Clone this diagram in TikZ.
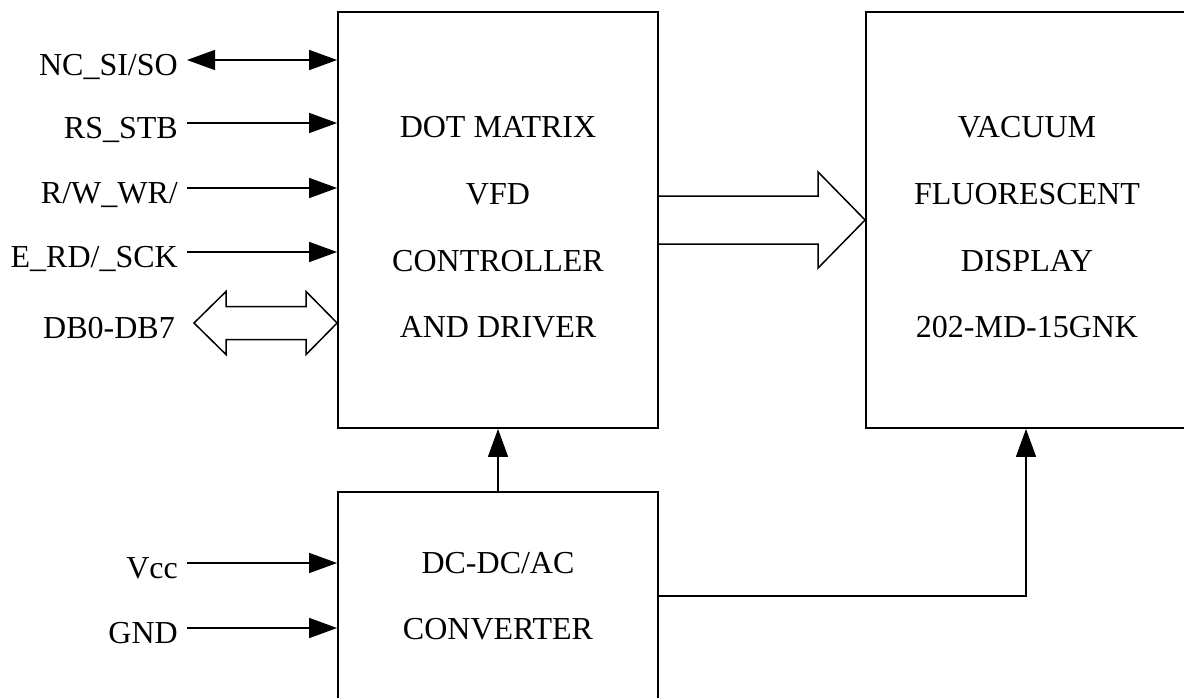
\documentclass[tikz,border=0pt]{standalone}
\usepackage{fontspec}
\setmainfont{Liberation Serif}
\usetikzlibrary{arrows.meta,calc}

\begin{document}
\begin{tikzpicture}[x=1pt, y=-1pt, >={Triangle[length=28pt,width=20pt]},
  every node/.style = {font=\fontsize{32}{66.7}\selectfont},
  block/.style = {shape=rectangle, draw, line width=1.8pt, minimum width=320pt, inner sep=0pt},
  blocktext/.style = {align=center, inner sep=0pt},
  sig/.style = {anchor=east, inner xsep=9pt, inner ysep=0pt, text height=30pt, text depth=0pt},
  wire/.style = {line width=1.5pt},
  bus/.style = {line width=1.5pt, line join=miter}]
  \useasboundingbox (0,0) rectangle (1184,697);
  \clip (0,0) rectangle (1184,697);

  % blocks
  \node[block, minimum height=416pt] (ctrl) at (498,220) {};
  \node[block, minimum height=416pt] (vfd) at (1026,220) {};
  \node[block, minimum height=208pt] (conv) at (498,596) {};
  \node[blocktext] (ctrltext) at ($(ctrl.center)+(0,7.5)$) {DOT MATRIX\\VFD\\CONTROLLER\\AND DRIVER};
  \node[blocktext] (vfdtext) at ($(vfd.center)+(1,7.5)$) {VACUUM\\FLUORESCENT\\DISPLAY\\202-MD-15GNK};
  \node[blocktext] (convtext) at (conv.center) {DC-DC/AC\\CONVERTER};

  % signals
  \node[sig] (nc) at (187,60) {NC\_SI/SO};
  \node[sig] (rs) at (187,123) {RS\_STB};
  \node[sig] (rw) at (187,188) {R/W\_WR/};
  \node[sig] (en) at (187,252) {E\_RD/\_SCK};
  \node[sig, inner xsep=19pt] (db) at (194,323) {DB0-DB7};
  \node[sig] (vcc) at (187,563) {Vcc};
  \node[sig] (gnd) at (187,628) {GND};

  \draw[wire, <->] (nc.east) -- (nc.east -| ctrl.west);
  \draw[wire, ->] (rs.east) -- (rs.east -| ctrl.west);
  \draw[wire, ->] (rw.east) -- (rw.east -| ctrl.west);
  \draw[wire, ->] (en.east) -- (en.east -| ctrl.west);
  \draw[wire, ->] (vcc.east) -- (vcc.east -| conv.west);
  \draw[wire, ->] (gnd.east) -- (gnd.east -| conv.west);

  % data bus
  \draw[bus] (db.east) -- ++(32,-31.5) -- ++(0,15)
    -- ($(ctrl.west |- db.east)+(-31,-16.5)$) -- ++(0,-15)
    -- (ctrl.west |- db.east) -- ++(-31,31.5) -- ++(0,-15)
    -- ($(db.east)+(32,16.5)$) -- ++(0,15) -- cycle;
  \draw[bus] ($(ctrl.east)+(0,-24)$) -- ($(vfd.west)+(-47,-24)$) -- ++(0,-24)
    -- (vfd.west) -- ($(vfd.west)+(-47,48)$) -- ++(0,-24)
    -- ($(ctrl.east)+(0,24)$);

  % power
  \draw[wire, ->] (conv.north) -- (ctrl.south);
  \draw[wire, ->] (conv.east) -| (vfd.south);
\end{tikzpicture}
\end{document}
